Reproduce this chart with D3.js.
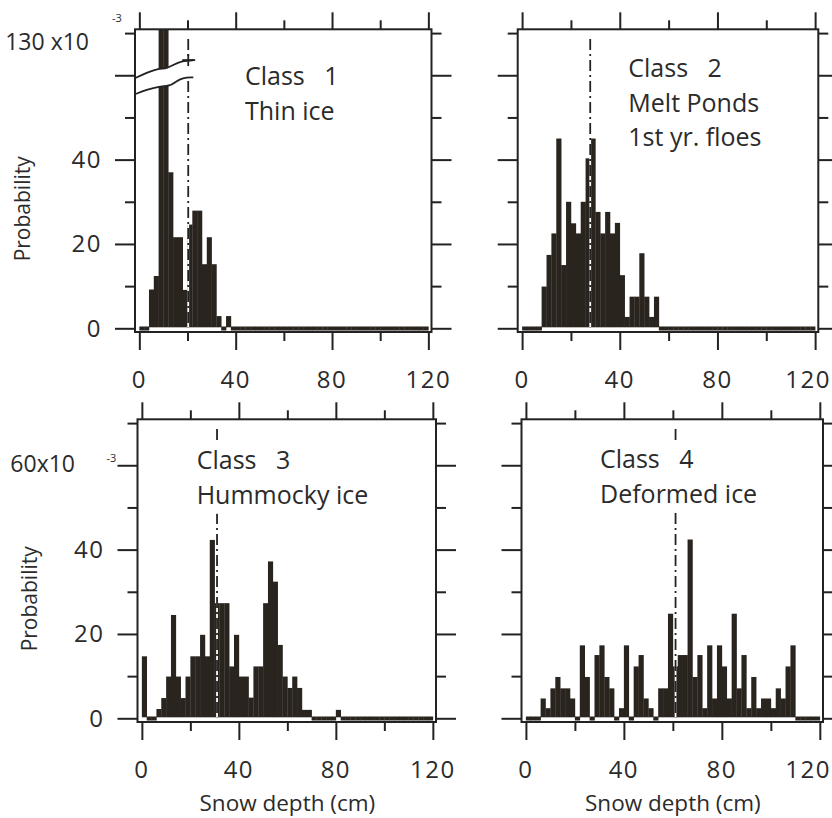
<!DOCTYPE html>
<html>
<head>
<meta charset="utf-8">
<script src="https://cdn.jsdelivr.net/npm/d3@7"></script>
<style>
  html, body { margin: 0; padding: 0; background: #fff; }
  svg { display: block; }
  text { font-family: "Open Sans", sans-serif; fill: #2b2b2b; }
  text.num { letter-spacing: 1.5px; }
</style>
</head>
<body>
<svg id="chart" width="832" height="818"></svg>
<script>
// Lower edge of each 2 cm snow-depth bin (cm)
const binStart = [0,2,4,6,8,10,12,14,16,18,20,22,24,26,28,30,32,34,36,38,
  40,42,44,46,48,50,52,54,56,58,60,62,64,66,68,70,72,74,76,78,
  80,82,84,86,88,90,92,94,96,98,100,102,104,106,108,110,112,114,116,118];
const binWidth = 2;

// Probability density per bin (x10^-3), one series per surface class
const class1 = [0,0,9.2,12.4,132,131,37,21.6,21.6,9.1,24.6,27.9,27.9,15.2,21.6,15.2,2.9,0,2.9,0,
  0,0,0,0,0,0,0,0,0,0,0,0,0,0,0,0,0,0,0,0,
  0,0,0,0,0,0,0,0,0,0,0,0,0,0,0,0,0,0,0,0];
const class2 = [0,0,0,0,9.9,17.4,22.5,45,15,30,24.9,22.5,30,40.3,45,27.6,22.5,27.6,22.5,25,
  12.6,2.7,7.5,7.5,17.8,7.5,2.7,7.5,0,0,0,0,0,0,0,0,0,0,0,0,
  0,0,0,0,0,0,0,0,0,0,0,0,0,0,0,0,0,0,0,0];
const class3 = [14.7,0,0,2.2,4.8,9.9,24.5,9.9,4.8,9.9,14.7,14.7,19.8,14.7,42.3,27.3,27.3,27.3,12.3,19.8,
  9.9,9.9,4.9,12.3,12.3,27.3,37.2,32.4,17.4,9.9,7.2,9.9,7.2,2.0,2.0,0,0,0,0,0,
  2.0,0,0,0,0,0,0,0,0,0,0,0,0,0,0,0,0,0,0,0];
const class4 = [0,0,0,4.7,2.4,7.1,9.8,7.1,7.1,4.7,0,17.3,9.8,0,15,17.3,9.8,7.1,0,2.4,
  17.3,0,12.3,15,4.7,2.4,0,7.1,7.1,24.8,12.3,15,15,42.4,9.8,15,2.4,17.3,4.7,17.3,
  12.3,4.7,24.8,7.1,15,2.4,9.8,2.4,4.7,4.7,2.4,7.1,4.7,12.3,17.3,0,0,0,0,0];

// Mean snow depth of each class (cm), shown as a dash-dot line
const meanDepth = [20.3, 27.9, 31.0, 61.1];

const classTitles = [
  ["Class   1", "Thin ice"],
  ["Class   2", "Melt Ponds", "1st yr. floes"],
  ["Class   3", "Hummocky ice"],
  ["Class   4", "Deformed ice"]
];

const xTicksMajor = [0, 40, 80, 120];
const xTicksMinor = [20, 60, 100];
const yTicksMajor = [0, 20, 40, 60];
const yTicksMinor = [10, 30, 50, 70];
const yTickLabels = ["0", "20", "40"];
const yTickLabelValues = [0, 20, 40];

const xAxisTitle = "Snow depth (cm)";
const yAxisTitle = "Probability";

const barColor = "#2a241f";
const inkColor = "#222";
const pageWidth = 832;

const panels = [
  { data: class1, left: 135,   right: 431.5, top: 29.3,  y0: 328.3, broken: true,
    showY: true, showTitle: false, annX: 110, annY: 55.7 },
  { data: class2, left: 517.7, right: 818.3, top: 29.3,  y0: 328.3, broken: false,
    showY: false, showTitle: false, annX: 110.6, annY: 48 },
  { data: class3, left: 137.5, right: 436,   top: 419.3, y0: 718.3, broken: false,
    showY: true, showTitle: true, annX: 59.2, annY: 50, box: true },
  { data: class4, left: 521.5, right: 823,   top: 419.3, y0: 718.3, broken: false,
    showY: false, showTitle: true, annX: 78.5, annY: 49, box: true }
];

const svg = d3.select("#chart");
const defs = svg.append("defs");

panels.forEach((p, i) => {
  const g = svg.append("g");
  const frameBottom = p.y0 + 3.7;

  const x = d3.scaleLinear().domain([-1.8, 121.3]).range([p.left, p.right]);
  // vertical position in axis units (1 unit = 1x10^-3)
  const u = d3.scaleLinear().domain([0, 70.9]).range([p.y0, p.top]);
  // broken axis: values above 60 are compressed so that 130 sits at the top tick
  const toUnits = p.broken
    ? d3.scaleLinear().domain([0, 60, 130, 140]).range([0, 60, 70, 80])
    : d3.scaleLinear().domain([0, 1]).range([0, 1]);
  const yv = v => u(toUnits(v));

  defs.append("clipPath").attr("id", "clip" + i)
    .append("rect")
    .attr("x", p.left).attr("y", p.top)
    .attr("width", p.right - p.left).attr("height", frameBottom - p.top);

  const plot = g.append("g").attr("clip-path", `url(#clip${i})`);

  const bins = binStart.map((b, k) => ({ b, v: p.data[k] }));

  // non-empty bins
  plot.selectAll("rect.bar")
    .data(bins.filter(d => d.v > 0))
    .join("rect")
    .attr("class", "bar")
    .attr("x", d => x(d.b))
    .attr("width", d => x(d.b + binWidth) - x(d.b) + 0.3)
    .attr("y", d => Math.max(p.top, yv(d.v)))
    .attr("height", d => (p.y0 - 1) - Math.max(p.top, yv(d.v)))
    .attr("fill", barColor);

  // empty bins sit on the baseline as a thin dark strip
  plot.selectAll("rect.empty")
    .data(bins.filter(d => d.v === 0))
    .join("rect")
    .attr("class", "empty")
    .attr("x", d => x(d.b))
    .attr("width", d => x(d.b + binWidth) - x(d.b) + 0.3)
    .attr("y", p.y0 - 1.8)
    .attr("height", 4)
    .attr("fill", barColor);

  // mean depth: dash-dot line with opaque gaps
  const mx = x(meanDepth[i]);
  plot.append("line")
    .attr("x1", mx).attr("x2", mx)
    .attr("y1", u(68.6)).attr("y2", p.y0 - 1)
    .attr("stroke", "#fff").attr("stroke-width", 1.8);
  plot.append("line")
    .attr("x1", mx).attr("x2", mx)
    .attr("y1", u(68.6)).attr("y2", p.y0 - 1)
    .attr("stroke", inkColor).attr("stroke-width", 1.8)
    .attr("stroke-dasharray", "11,4,2,4");

  // axis break marks
  if (p.broken) {
    const upper = [[-1.8, 59.3], [3, 60.6], [8, 61.6], [11.5, 61.6], [14.5, 62.6], [17.5, 63.4], [23.2, 63.6]];
    const lower = [[-1.8, 55.5], [3, 56.6], [8.3, 57.4], [12.7, 57.4], [15.2, 58.5], [17.8, 59.4], [22.4, 59.5]];
    const line = d3.line().x(d => x(d[0])).y(d => u(d[1])).curve(d3.curveBasis);
    const area = d3.area().x(d => x(d[0])).y0(d => u(d[1] - 4.1)).y1(d => u(d[1])).curve(d3.curveBasis);
    g.append("path").attr("d", area(upper))
      .attr("fill", "#fff");
    g.append("path").attr("d", line(upper)).attr("fill", "none")
      .attr("stroke", inkColor).attr("stroke-width", 1.8);
    g.append("path").attr("d", line(lower)).attr("fill", "none")
      .attr("stroke", inkColor).attr("stroke-width", 1.8);
    // short cross-stroke where the mean line meets the break
    g.append("line")
      .attr("x1", mx - 6).attr("x2", mx + 6)
      .attr("y1", u(63.6)).attr("y2", u(63.6))
      .attr("stroke", inkColor).attr("stroke-width", 1.8);
    g.append("line")
      .attr("x1", mx).attr("x2", mx)
      .attr("y1", u(63.6) - 6).attr("y2", u(63.6) + 6)
      .attr("stroke", inkColor).attr("stroke-width", 1.8);
  }

  // frame
  g.append("rect")
    .attr("x", p.left).attr("y", p.top)
    .attr("width", p.right - p.left).attr("height", frameBottom - p.top)
    .attr("fill", "none").attr("stroke", inkColor).attr("stroke-width", 2);

  // ticks (all pointing outward)
  const tickStyle = sel => sel.call(s => s.select(".domain").remove())
    .selectAll("line").attr("stroke", inkColor).attr("stroke-width", 2);

  g.append("g").attr("transform", `translate(0,${frameBottom})`)
    .call(d3.axisBottom(x).tickValues(xTicksMajor).tickSize(18).tickFormat("")).call(tickStyle);
  g.append("g").attr("transform", `translate(0,${frameBottom})`)
    .call(d3.axisBottom(x).tickValues(xTicksMinor).tickSize(9).tickFormat("")).call(tickStyle);
  g.append("g").attr("transform", `translate(0,${p.top})`)
    .call(d3.axisTop(x).tickValues(xTicksMajor).tickSize(17).tickFormat("")).call(tickStyle);
  g.append("g").attr("transform", `translate(0,${p.top})`)
    .call(d3.axisTop(x).tickValues(xTicksMinor).tickSize(9).tickFormat("")).call(tickStyle);

  g.append("g").attr("transform", `translate(${p.left},0)`)
    .call(d3.axisLeft(u).tickValues(yTicksMajor).tickSize(20).tickFormat("")).call(tickStyle);
  g.append("g").attr("transform", `translate(${p.left},0)`)
    .call(d3.axisLeft(u).tickValues(yTicksMinor).tickSize(10).tickFormat("")).call(tickStyle);
  g.append("g").attr("transform", `translate(${p.right},0)`)
    .call(d3.axisRight(u).tickValues(yTicksMajor).tickSize(20).tickFormat("")).call(tickStyle);
  g.append("g").attr("transform", `translate(${p.right},0)`)
    .call(d3.axisRight(u).tickValues(yTicksMinor).tickSize(10).tickFormat("")).call(tickStyle);

  // x tick labels (kept inside the page at the right edge)
  g.selectAll("text.xl")
    .data(xTicksMajor)
    .join("text")
    .attr("class", "xl num")
    .attr("x", d => x(d))
    .attr("y", frameBottom + 56)
    .attr("text-anchor", "middle")
    .attr("font-size", 24)
    .text(d => d)
    .each(function () {
      const bb = this.getBBox();
      if (bb.x + bb.width > pageWidth - 1) {
        d3.select(this).attr("text-anchor", "end").attr("x", pageWidth - 1);
      }
    });

  // y tick labels and scale factor
  if (p.showY) {
    g.selectAll("text.yl")
      .data(yTickLabelValues)
      .join("text")
      .attr("class", "yl num")
      .attr("x", p.left - 33)
      .attr("y", d => u(d) + 8.5)
      .attr("text-anchor", "end")
      .attr("font-size", 24)
      .text((d, k) => yTickLabels[k]);

    if (p.broken) {
      g.append("text").attr("x", p.left - 46).attr("y", u(70) + 17)
        .attr("text-anchor", "end").attr("font-size", 23).text("130 x10");
      g.append("text").attr("x", p.left - 23).attr("y", u(70) - 11)
        .attr("font-size", 11).text("-3");
    } else {
      g.append("text").attr("x", p.left - 62.5).attr("y", u(60) + 7)
        .attr("text-anchor", "end").attr("font-size", 23).text("60x10");
      g.append("text").attr("x", p.left - 31).attr("y", u(60) - 3)
        .attr("font-size", 11).text("-3");
    }

    g.append("text")
      .attr("transform", `translate(${i === 0 ? 30 : 37},${(p.top + p.y0) / 2 + 30}) rotate(-90)`)
      .attr("text-anchor", "middle")
      .attr("font-size", 21)
      .text(yAxisTitle);
  }

  if (p.showTitle) {
    g.append("text")
      .attr("x", (x(0) + x(120)) / 2)
      .attr("y", frameBottom + 89)
      .attr("text-anchor", "middle")
      .attr("font-size", 22.5)
      .text(xAxisTitle);
  }

  // class annotation
  const ann = g.append("g");
  const annText = ann.append("text")
    .attr("x", p.left + p.annX)
    .attr("y", p.top + p.annY)
    .attr("font-size", 25)
    .attr("xml:space", "preserve")
    .style("white-space", "pre");
  classTitles[i].forEach((line, k) => {
    annText.append("tspan")
      .attr("x", p.left + p.annX)
      .attr("dy", k === 0 ? 0 : 34.5)
      .text(line);
  });
  if (p.box) {
    const bb = annText.node().getBBox();
    ann.insert("rect", "text")
      .attr("x", bb.x - 4).attr("y", bb.y + 1)
      .attr("width", bb.width + 8).attr("height", bb.height + 2)
      .attr("fill", "#fff");
  }
});
</script>
</body>
</html>
